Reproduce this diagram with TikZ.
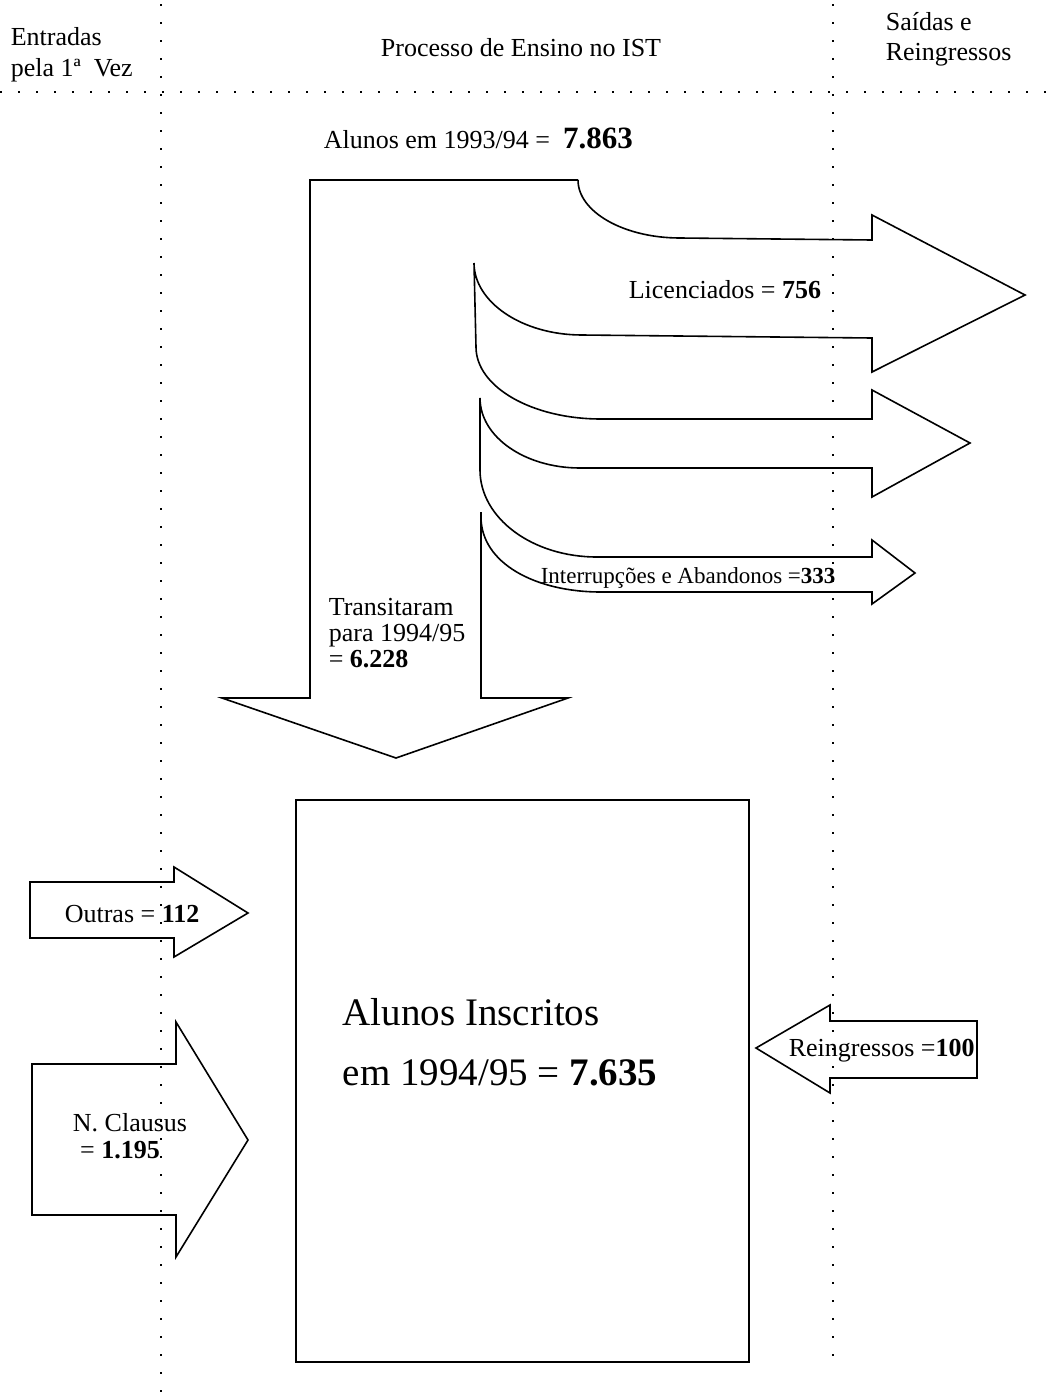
\documentclass[tikz,border=0pt]{standalone}
\usepackage{fontspec}
\setmainfont{Liberation Serif}
\usepackage{tikz}

\newcommand{\smalltxt}{\fontsize{26}{26.5}\selectfont}
\newcommand{\bigtxt}{\fontsize{39}{40}\selectfont}

\begin{document}
\begin{tikzpicture}[x=1pt, y=-1pt, line width=1.6pt,
    dots/.style={line width=2pt, dash pattern=on 2pt off 16pt},
    lbl/.style={font=\smalltxt, inner sep=0pt, anchor=base west}]
    \useasboundingbox (0,0) rectangle (1060,1392);

    % column separators
    \draw[dots] (0,92) -- (1060,92);
    \draw[dots] (161,4) -- (161,1392);
    \draw[dots] (833,4) -- (833,1364);

    % headings
    \node[lbl] at (10,45) (entradas) {Entradas};
    \node[lbl] at (10,76) (pela) {pela 1ª\ \ Vez};
    \node[lbl, anchor=base] at (521,56) (processo) {Processo de Ensino no IST};
    \node[lbl] at (885,30) (saidas) {Saídas e};
    \node[lbl] at (885,60) (reingr) {Reingressos};

    \node[lbl] at (323,148) (alunos93) {Alunos em 1993/94 =\ \ {\fontsize{31}{31}\selectfont\bfseries 7.863}};

    % flow through the year
    \draw (578,180) -- (310,180) -- (310,698) -- (222,698) -- (396,758) -- (568,698) -- (481,698) -- (481,512);
    \draw (578,180) .. controls (578,212) and (624,238) .. (680,238) -- (872,240) -- (872,215) -- (1025,295) -- (872,372) -- (872,338) -- (582,335) .. controls (522,335) and (474,302) .. (474,263) -- (476,347);
    \draw (476,347) .. controls (476,387) and (532,419) .. (601,419) -- (872,419) -- (872,390) -- (970,443) -- (872,497) -- (872,468) -- (580,468) .. controls (525,468) and (480,437) .. (480,398) -- (480,470);
    \draw (480,470) .. controls (480,518) and (532,557) .. (597,557) -- (872,557) -- (872,540) -- (915,573) -- (872,604) -- (872,592) -- (601,592) .. controls (535,592) and (481,563) .. (481,517);

    \node[lbl] at (628,298) (licenc) {Licenciados = \textbf{756}};
    \node[lbl, font=\fontsize{23}{23}\selectfont] at (540,583) (interr) {Interrupções e Abandonos =\textbf{333}};
    \node[lbl] at (328,615) (trans1) {Transitaram};
    \node[lbl] at (328,641) (trans2) {para 1994/95};
    \node[lbl] at (328,667) (trans3) {=\ \textbf{6.228}};

    % enrolled students
    \draw (296,800) rectangle (749,1362);
    \node[lbl, font=\bigtxt] at (342,1025) (inscritos) {Alunos Inscritos};
    \node[lbl, font=\bigtxt] at (342,1085) (em9495) {em 1994/95 =\ \textbf{7.635}};

    % entries
    \draw (30,882) -- (174,882) -- (174,867) -- (248,913) -- (174,957) -- (174,938) -- (30,938) -- cycle;
    \node[lbl] at (64,922) (outras) {Outras = \textbf{112}};
    \draw (32,1064) -- (176,1064) -- (176,1022) -- (248,1140) -- (176,1257) -- (176,1215) -- (32,1215) -- cycle;
    \node[lbl, anchor=base] at (130,1131) (clausus) {N. Clausus};
    \node[lbl, anchor=base] at (120,1158) (clausus2) {=\ \textbf{1.195}};

    % re-entries
    \draw (977,1021) -- (830,1021) -- (830,1005) -- (756,1048) -- (830,1093) -- (830,1078) -- (977,1078) -- cycle;
    \node[lbl] at (788,1056) (reingressos) {Reingressos =\textbf{100}};
\end{tikzpicture}
\end{document}
